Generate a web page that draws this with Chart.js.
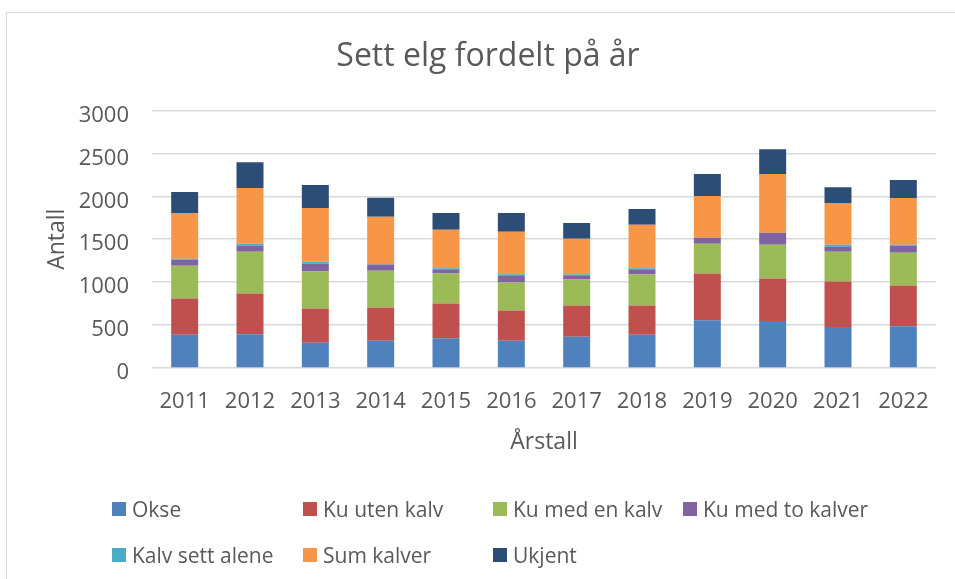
<!DOCTYPE html>
<html lang="no">
<head>
<meta charset="utf-8">
<title>Sett elg fordelt på år</title>
<script src="https://cdn.jsdelivr.net/npm/chart.js@4.4.0/dist/chart.umd.min.js"></script>
<style>
  html, body { margin: 0; padding: 0; background: #fff; overflow: hidden; }
  #wrap { position: relative; width: 955px; height: 579px; }
  #frame { position: absolute; left: 6px; top: 12px; width: 1200px; height: 1200px; border: 1px solid #d9d9d9; box-sizing: border-box; }
  #chart { position: absolute; left: 0; top: 0; }
  #legend { position: absolute; left: 0; top: 0; font-family: 'Open Sans', sans-serif; font-size: 21px; color: #595959; }
  .legend-item { position: absolute; display: flex; align-items: center; height: 24px; white-space: nowrap; }
  .legend-box { width: 14px; height: 14px; margin-right: 6px; }
</style>
</head>
<body>
<div id="wrap">
  <div id="frame"></div>
  <canvas id="chart" width="955" height="579"></canvas>
  <div id="legend"></div>
</div>
<script>
// ------------------ Data ------------------
const years = ["2011", "2012", "2013", "2014", "2015", "2016", "2017", "2018", "2019", "2020", "2021", "2022"];
const okse = [386, 394, 293, 316, 347, 316, 363, 386, 556, 548, 478, 486];
const kuUtenKalv = [424, 474, 401, 390, 405, 355, 366, 343, 544, 494, 529, 475];
const kuMedEnKalv = [382, 486, 429, 428, 348, 324, 301, 359, 347, 393, 347, 382];
const kuMedToKalver = [70, 70, 92, 70, 50, 85, 50, 62, 69, 139, 58, 81];
const kalvSettAlene = [11, 23, 23, 3, 11, 12, 12, 11, 2, 2, 23, 11];
const sumKalver = [533, 648, 625, 555, 448, 494, 413, 506, 486, 683, 486, 544];
const ukjent = [243, 301, 267, 220, 197, 220, 185, 185, 255, 289, 185, 209];
const yTicks = [0, 500, 1000, 1500, 2000, 2500, 3000];

const seriesNames = ["Okse", "Ku uten kalv", "Ku med en kalv", "Ku med to kalver", "Kalv sett alene", "Sum kalver", "Ukjent"];
const seriesColors = ["#4f81bd", "#c0504d", "#9bbb59", "#8064a2", "#4bacc6", "#f79646", "#2c4d75"];
const seriesValues = [okse, kuUtenKalv, kuMedEnKalv, kuMedToKalver, kalvSettAlene, sumKalver, ukjent];

const textColor = "#595959";
Chart.defaults.font.family = "'Open Sans', sans-serif";
Chart.defaults.color = textColor;

// ------------------ Chart ------------------
const datasets = seriesNames.map((name, i) => ({
  label: name,
  data: seriesValues[i],
  backgroundColor: seriesColors[i],
  borderWidth: 0,
  barPercentage: 0.413,
  categoryPercentage: 1
}));

const chart = new Chart(document.getElementById("chart"), {
  type: "bar",
  data: { labels: years, datasets: datasets },
  options: {
    responsive: false,
    animation: false,
    // left padding shifts the title centre to match, y axis width makes up for it
    layout: { padding: { left: 40, right: 19, top: 0, bottom: 0 } },
    plugins: {
      legend: { display: false },
      tooltip: { enabled: false },
      title: {
        display: true,
        text: "Sett elg fordelt på år",
        color: textColor,
        font: { size: 32, weight: "normal" },
        padding: { top: 38, bottom: 34 }
      }
    },
    scales: {
      x: {
        stacked: true,
        grid: { display: false },
        border: { display: false },
        ticks: { font: { size: 22 }, padding: 13, color: textColor, maxRotation: 0 },
        title: {
          display: true,
          text: "Årstall",
          color: textColor,
          font: { size: 23 },
          padding: { top: 0, bottom: 123 }
        },
        afterFit: scale => { scale.height = 211; }
      },
      y: {
        stacked: true,
        min: 0,
        max: 3000,
        grid: { color: "#d9d9d9", lineWidth: 1.5, drawTicks: false },
        border: { display: false },
        afterBuildTicks: scale => { scale.ticks = yTicks.map(v => ({ value: v })); },
        ticks: {
          font: { size: 22 },
          padding: 23,
          labelOffset: 5,
          color: textColor,
          callback: value => String(value)
        },
        title: {
          display: true,
          text: "Antall",
          color: textColor,
          font: { size: 23 },
          padding: { top: 4, bottom: 0 }
        },
        afterFit: scale => { scale.width = 112; }
      }
    }
  }
});

// ------------------ Legend ------------------
const legendEl = document.getElementById("legend");
const legendCols = [112, 303, 493, 683];
const legendRows = [509, 555];
chart.data.datasets.forEach((ds, i) => {
  const item = document.createElement("div");
  item.className = "legend-item";
  item.style.left = legendCols[i % 4] + "px";
  item.style.top = (legendRows[Math.floor(i / 4)] - 12) + "px";
  item.innerHTML = `<span class="legend-box" style="background:${ds.backgroundColor}"></span><span>${ds.label}</span>`;
  legendEl.appendChild(item);
});
</script>
</body>
</html>
